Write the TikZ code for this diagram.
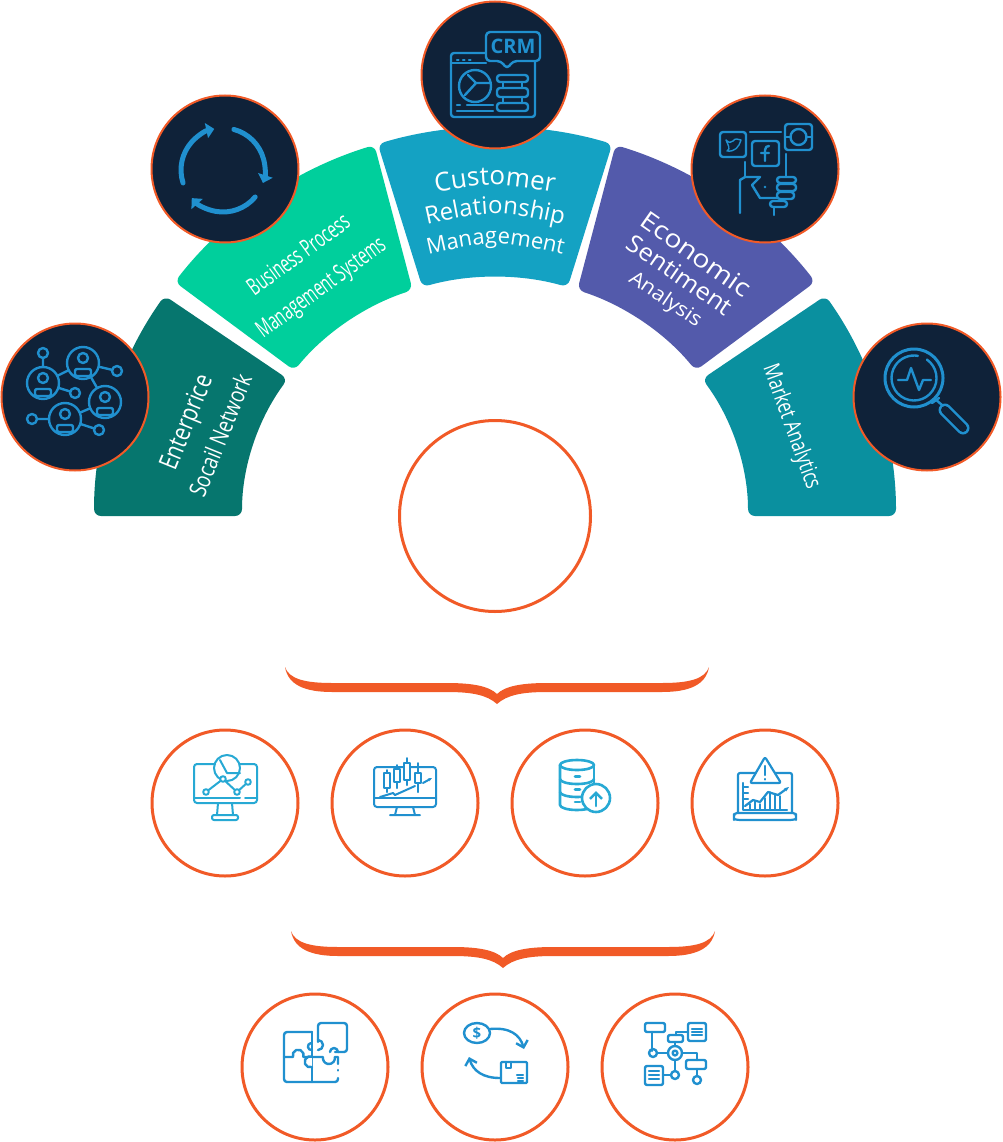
\documentclass[tikz,border=0pt]{standalone}
\usepackage{fontspec}
\usepackage{graphicx}
\usepackage{xcolor}
\usetikzlibrary{arrows.meta,calc,decorations.text}
\setmainfont{Open Sans}
\definecolor{navy}     {HTML}{0F2239}
\definecolor{rust}     {HTML}{F15A27}
\definecolor{iconblue} {HTML}{2090CF}
\definecolor{iconcyan} {HTML}{27A9D4}
\definecolor{bandone}  {HTML}{06766E}
\definecolor{bandtwo}  {HTML}{00CF9C}
\definecolor{bandthree}{HTML}{14A2C3}
\definecolor{bandfour} {HTML}{535AAB}
\definecolor{bandfive} {HTML}{0A909F}
\tikzset{
  darkdisc/.style={circle,draw=rust,fill=navy,line width=2pt,minimum size=147pt,inner sep=0pt},
  ring/.style={circle,draw=rust,fill=white,line width=3pt,minimum size=146pt,inner sep=0pt},
  hubring/.style={ring,minimum size=191pt},
  iconline/.style={draw=iconblue,line width=2.4pt,line cap=round,line join=round},
  cyanline/.style={iconline,draw=iconcyan},
  bandlabel/.style={text=white,align=center,inner sep=0pt},
  barbtip/.style={-{Straight Barb[length=6pt,width=12pt]}}
}
\newcommand{\sectorband}[5]{%
  \fill[#1,rounded corners=7pt] ($(hub.center)+(#2:401 and 389)$)
    arc[start angle=#2,end angle=#3,x radius=401,y radius=389]
    -- ($(hub.center)+(#5:253 and 239)$)
    arc[start angle=#5,end angle=#4,x radius=253,y radius=239] -- cycle;}
\newcommand{\orangebrace}[2]{%
  \fill[rust,shift={(#1,#2)}] (-212,0) .. controls (-208,-12) and (-192,-16) .. (-165,-16)
    -- (-50,-16) .. controls (-25,-16) and (-8,-19) .. (0,-27)
    .. controls (8,-19) and (25,-16) .. (50,-16) -- (165,-16)
    .. controls (192,-16) and (208,-12) .. (212,0)
    .. controls (209,-18) and (192,-25) .. (165,-25) -- (50,-25)
    .. controls (25,-25) and (10,-28) .. (0,-37)
    .. controls (-10,-28) and (-25,-25) .. (-50,-25) -- (-165,-25)
    .. controls (-192,-25) and (-209,-18) .. (-212,0) -- cycle;}
\newcommand{\squeezed}[3]{\scalebox{#1}[1]{\fontsize{#2}{#2}\selectfont #3}}
\begin{document}
\begin{tikzpicture}[x=1pt,y=1pt]
      \useasboundingbox (0,0) rectangle (1002,-1142);
      \node[hubring] (hub) at (495,-516) {};
      % the five bands
      \sectorband{bandone}{180}{145.5}{180}{145}
      \sectorband{bandtwo}{143}{107.5}{142.5}{109}
      \sectorband{bandthree}{107}{73}{106.7}{73.3}
      \sectorband{bandfour}{72.5}{37}{71}{37.5}
      \sectorband{bandfive}{34.5}{0}{35}{0}
      % band labels
      \node[bandlabel,rotate=68] (enterprise) at (188,-423) {\squeezed{0.8}{26}{Enterprice}};
      \node[bandlabel,rotate=68] (socail) at (220,-435) {\squeezed{0.78}{24}{Socail Network}};
      \node[bandlabel,rotate=36] (business) at (298,-254) {\squeezed{0.63}{24}{Business Process}};
      \node[bandlabel,rotate=36] (managementsys) at (322,-289) {\squeezed{0.62}{24}{Management Systems}};
      \path[decorate,decoration={text along path,text align=center,text={|\fontsize{26}{26}\selectfont\color{white}|Customer}}]
        (425,-194) .. controls (495,-182) .. (565,-194);
      \path[decorate,decoration={text along path,text align=center,text={|\fontsize{24}{24}\selectfont\color{white}|Relationship}}]
        (415,-227) .. controls (495,-209) .. (575,-227);
      \path[decorate,decoration={text along path,text align=center,text={|\fontsize{22}{22}\selectfont\color{white}|Management}}]
        (417,-257) .. controls (495,-239) .. (574,-257);
      \node[bandlabel,rotate=-35] (economic) at (696,-254) {\squeezed{1.14}{25}{Economic}};
      \node[bandlabel,rotate=-34.5] (sentiment) at (680,-275) {\squeezed{1.06}{24}{Sentiment}};
      \node[bandlabel,rotate=-34] (analysis) at (665,-300) {\squeezed{1.1}{20}{Analysis}};
      \node[bandlabel,rotate=-70] (market) at (791,-427) {\squeezed{0.74}{23}{Market Analytics}};
      % dark discs
      \node[darkdisc] (netdisc) at (75,-397) {};
      \node[darkdisc] (cycledisc) at (225,-169) {};
      \node[darkdisc] (crmdisc) at (495,-75) {};
      \node[darkdisc] (socialdisc) at (765,-169) {};
      \node[darkdisc] (lensdisc) at (927,-397) {};
      % people network
      \begin{scope}[shift={(netdisc.center)},iconline]
        \draw (-32,44) -- (-32,14) -- (8,34) -- (42,26);
        \draw (8,34) -- (30,-5) -- (-10,-22) -- (-43,-22);
        \draw (-10,-22) -- (24,-33);
        \draw (-32,14) -- (0,4);
        \foreach \spot in {(-32,44),(42,26),(0,4),(-43,-22),(24,-33)}
          \draw[fill=navy] \spot circle[radius=5];
        \foreach \spot in {(-32,14),(8,34),(30,-5),(-10,-22)} {
          \draw[fill=navy] \spot circle[radius=16];
          \draw \spot ++(0,5) circle[radius=5];
          \draw[rounded corners=2pt] \spot ++(-8,-6) rectangle ++(16,-7);
        }
      \end{scope}
      % cycle
      \begin{scope}[shift={(cycledisc.center)},line width=5pt,draw=iconblue,line cap=round]
        \draw[-{Triangle[length=8pt,width=15pt]}] (198:42) ++(-2,-1) arc[start angle=198,end angle=102,radius=42];
        \draw[-{Triangle[length=8pt,width=15pt]}] (75:42) ++(-2,-1) arc[start angle=75,end angle=-18,radius=42];
        \draw[-{Triangle[length=8pt,width=15pt]}] (-40:42) ++(-2,-1) arc[start angle=-40,end angle=-138,radius=42];
      \end{scope}
      % crm window
      \begin{scope}[shift={(crmdisc.center)},iconline]
        \draw[rounded corners=3pt] (-9,22) -- (-44,22) -- (-44,-42) -- (40,-42) -- (40,14);
        \draw (-44,12) -- (-9,12);
        \foreach \dotx in {-38,-32,-26} \draw (\dotx,15) -- ++(1.5,0);
        \draw[fill=navy,rounded corners=4pt] (-9,43) -- (45,43) -- (45,14) -- (18,14) -- (12,6) -- (6,14) -- (-9,14) -- cycle;
        \node[text=iconblue,inner sep=0pt,font=\fontsize{20}{20}\selectfont\bfseries] (crmtext) at (18,29) {CRM};
        \draw (-20,-11) circle[radius=16];
        \draw (-27,0) -- (-19,-8) -- (-5,-8);
        \draw (-19,-8) -- (-30,-20);
        \draw (8,-7) -- (8,-13) (27,-7) -- (27,-13) (8,-22) -- (8,-28) (27,-22) -- (27,-28);
        \draw[rounded corners=3pt] (2,0) rectangle (33,-7);
        \draw[rounded corners=3pt] (2,-13) rectangle (33,-22);
        \draw[rounded corners=3pt] (2,-28) rectangle (33,-36);
        \draw (-38,-30) -- (-35,-30) (-28,-30) -- (-2,-30) (-38,-36) -- (-2,-36);
      \end{scope}
      % social hand
      \begin{scope}[shift={(socialdisc.center)},iconline]
        \draw[rounded corners=3pt] (-45,37) rectangle (-19,12);
        \draw[rounded corners=3pt] (-13,28) rectangle (14,3);
        \draw[rounded corners=3pt] (20,45) rectangle (47,19);
        \draw (-15,37) -- (16,37);
        \draw (-20,7) -- (-20,-8) (21,15) -- (21,-7);
        \draw (-25,-44) -- (-25,-11) -- (-20,-8) -- (-5,-8) -- (-13,-16) -- (-5,-29) -- (12,-29);
        \draw[rounded corners=3pt] (12,-8) rectangle (31,-14);
        \draw[rounded corners=3pt] (12,-15) rectangle (31,-22);
        \draw[rounded corners=3pt] (12,-23) rectangle (29,-30);
        \draw[rounded corners=3pt] (5,-32) rectangle (22,-38);
        \draw (9,-38) -- (9,-46);
        \fill[iconblue] (0,-18) circle[radius=1.4];
        \draw (33.5,32) circle[radius=8];
        \draw (20,32) -- (25,32) (42,32) -- (47,32);
        \draw (0,8) -- (0,19) .. controls (0,22) and (2,23) .. (4,23) (-4,16) -- (4,16);
        \draw[line width=1.4pt] (-39,29) .. controls (-36,26) and (-34,26) .. (-32,28)
          .. controls (-30,31) and (-27,30) .. (-24,29) .. controls (-26,22) and (-30,17) .. (-38,18)
          .. controls (-34,20) and (-37,24) .. (-39,29) -- cycle;
      \end{scope}
      % magnifier
      \begin{scope}[shift={(lensdisc.center)},iconline]
        \draw[line width=3pt] (-13,19) circle[radius=29];
        \draw (-13,19) ++(55:22.5) arc[start angle=55,end angle=-280,radius=22.5];
        \draw (-29,17) -- (-20,17) -- (-16,29) -- (-8,7) -- (-4,17) -- (4,17);
        \draw (5,-6) -- (12,-1) (8,-2) -- (15,-8);
        \draw[line width=13pt,draw=iconblue] (18,-13) -- (36,-31);
        \draw[line width=8pt,draw=navy] (18,-13) -- (36,-31);
      \end{scope}
      % first brace and its row
      \orangebrace{497}{-667}
      \node[ring] (dashring) at (225,-803) {};
      \node[ring] (candlering) at (405,-803) {};
      \node[ring] (dataring) at (585,-803) {};
      \node[ring] (alertring) at (765,-803) {};
      \begin{scope}[shift={(dashring.center)},cyanline,line width=2pt]
        \draw[rounded corners=3pt] (-10,39) -- (-31,39) -- (-31,0) -- (32,0) -- (32,39) -- (15,39);
        \draw (-31,5) -- (15,5) (20,5) -- (32,5);
        \draw (-7,0) -- (-8,-12) (7,0) -- (8,-12);
        \draw[rounded corners=2pt] (-13,-12) rectangle (13,-17);
        \draw (2,35) circle[radius=13];
        \draw (-5,43) -- (2,30) -- (15,30);
        \draw (-19,11) -- (-2,24) -- (12,11) -- (23,21);
        \foreach \spot in {(-19,11),(-2,24),(12,11),(23,21)}
          \draw[fill=white] \spot circle[radius=2.8];
      \end{scope}
      \begin{scope}[shift={(candlering.center)},iconline,line width=2pt]
        \draw[rounded corners=3pt] (-31,36) rectangle (31,-4);
        \draw (-31,5) -- (31,5);
        \draw (-8,-4) -- (-10,-12) (8,-4) -- (10,-12) (-15,-12) -- (15,-12);
        \draw (-18,33) -- (-18,11) (-8,38) -- (-8,15) (2,45) -- (2,18) (13,40) -- (13,11);
        \draw[fill=white] (-21,30) rectangle (-15,15);
        \draw[fill=white] (-11,34) rectangle (-5,21);
        \draw[fill=white] (-1,40) rectangle (5,23);
        \draw[fill=white] (10,30) rectangle (16,20);
        \draw (-25,6) -- (-12,10) -- (-10,8) -- (10,17);
        \draw[-{Stealth[length=4pt]}] (18,20) -- (27,25);
      \end{scope}
      \begin{scope}[shift={(dataring.center)},cyanline,line width=2.6pt]
        \draw (-25,38) -- (-25,-2) arc[start angle=180,end angle=330,x radius=17,y radius=5];
        \draw (9,38) -- (9,10);
        \draw (-8,38) ellipse[x radius=17,y radius=5];
        \draw (-25,24) arc[start angle=180,end angle=360,x radius=17,y radius=5];
        \draw (-25,11) arc[start angle=180,end angle=320,x radius=17,y radius=5];
        \draw (-10,26.5) -- (-5,26.5) (-10,13.5) -- (-5,13.5) (-10,1) -- (-5,1);
        \draw[fill=white] (11,5) circle[radius=14];
        \draw[barbtip] (11,-3) -- (11,12);
      \end{scope}
      \begin{scope}[shift={(alertring.center)},iconline,line width=2.2pt]
        \draw[rounded corners=2pt] (-27,-10) -- (-27,30) -- (27,30) -- (27,-10);
        \draw[rounded corners=3pt] (-31,-10) -- (31,-10) -- (31,-14) .. controls (31,-16) .. (28,-17) -- (-28,-17) .. controls (-31,-16) .. (-31,-14) -- cycle;
        \draw[fill=white,rounded corners=2pt] (0,46) -- (16,20) -- (-15,20) -- cycle;
        \draw (0,37) -- (0,28) (0,24) -- (0,23.5);
        \draw (-22,20) -- (-22,-7) -- (22,-7);
        \draw (-22,16) -- (-17,16) (-22,10) -- (-17,10) (-22,4) -- (-17,4);
        \draw[line width=1.5pt] (-15,-7) -- (-15,-1) (-10,-7) -- (-10,2) (-5,-7) -- (-5,-1) (0,-7) -- (0,5) (5,-7) -- (5,11) (10,-7) -- (10,9) (15,-7) -- (15,7);
        \draw[-{Stealth[length=5pt]}] (-20,-3) -- (-12,3) -- (-5,1) -- (3,11) -- (13,8) -- (24,16);
      \end{scope}
      % second brace and its row
      \orangebrace{503}{-931}
      \node[ring] (puzzlering) at (315,-1067) {};
      \node[ring] (tradering) at (495,-1067) {};
      \node[ring] (flowring) at (675,-1067) {};
      \begin{scope}[shift={(puzzlering.center)},iconline]
        \draw[rounded corners=3pt] (-3,35) -- (-31,35) -- (-31,-15) -- (23,-15) -- (23,-11);
        \draw[rounded corners=3pt] (3,25) -- (3,44) -- (32,44) -- (32,15) -- (20,15);
        \draw (3,27) arc[start angle=90,end angle=-90,radius=5] -- (3,17);
        \draw (-31,10) -- (-22,10) arc[start angle=200,end angle=-20,radius=5.5] -- (-3,10);
        \draw (-3,35) -- (-3,-15);
        \draw[fill=white] (-3,0) arc[start angle=-70,end angle=-290,radius=5.5];
        \draw (-3,17) arc[start angle=-80,end angle=-260,radius=3.5];
        \draw (-3,10) -- (8,10) arc[start angle=170,end angle=370,radius=6] -- (23,10) -- (23,3);
        \draw (23,15) arc[start angle=0,end angle=180,radius=4];
        \draw (23,-3) -- (23,-3.5);
      \end{scope}
      \begin{scope}[shift={(tradering.center)},iconline]
        \draw (-18,34) ellipse[x radius=13,y radius=10];
        \node[text=iconblue,inner sep=0pt,font=\fontsize{15}{15}\selectfont\bfseries] (dollar) at (-18,34) {\$};
        \draw[barbtip] (-5,38) .. controls (15,40) and (25,32) .. (29,18);
        \draw[rounded corners=1pt] (6,-3) -- (6,-16) -- (32,-16) -- (32,5) -- (6,5) -- cycle;
        \draw (11,5) -- (11,-1) -- (16,-1) -- (16,5);
        \draw (22,-8) -- (28,-8) (23,-11) -- (28,-11) (23,-14) -- (28,-14);
        \draw[barbtip] (5,-11) .. controls (-12,-11) and (-22,-4) .. (-26,10);
      \end{scope}
      \begin{scope}[shift={(flowring.center)},iconline]
        \draw (-23,35) -- (-23,16) (-18,14) -- (-7,14) (0,21) -- (0,25) (1,32) -- (1,35) -- (13,35);
        \draw (7,14) -- (22,14) -- (22,7) (0,7) -- (0,-4) (22,-2) -- (22,-9);
        \draw[rounded corners=2pt] (-30,44) rectangle (-10,35);
        \draw (-22,14) circle[radius=4];
        \draw[fill=white] (0,14) circle[radius=7];
        \draw (0,14) circle[radius=2.4];
        \draw[rounded corners=2pt] (-7,32) rectangle (8,25);
        \draw[rounded corners=2pt] (13,44) rectangle (31,26);
        \draw (17,38) -- (27,38) (17,35) -- (27,35) (17,32) -- (27,32);
        \draw[rounded corners=2pt] (11,7) rectangle (31,-2);
        \draw (0,-8) circle[radius=4];
        \draw (-5,-8) -- (-12,-8);
        \draw (22,-13) circle[radius=4];
        \draw[rounded corners=2pt] (-30,1) rectangle (-12,-18);
        \draw (-26,-4) -- (-16,-4) (-26,-8) -- (-16,-8) (-26,-12) -- (-16,-12);
      \end{scope}
\end{tikzpicture}
\end{document}
